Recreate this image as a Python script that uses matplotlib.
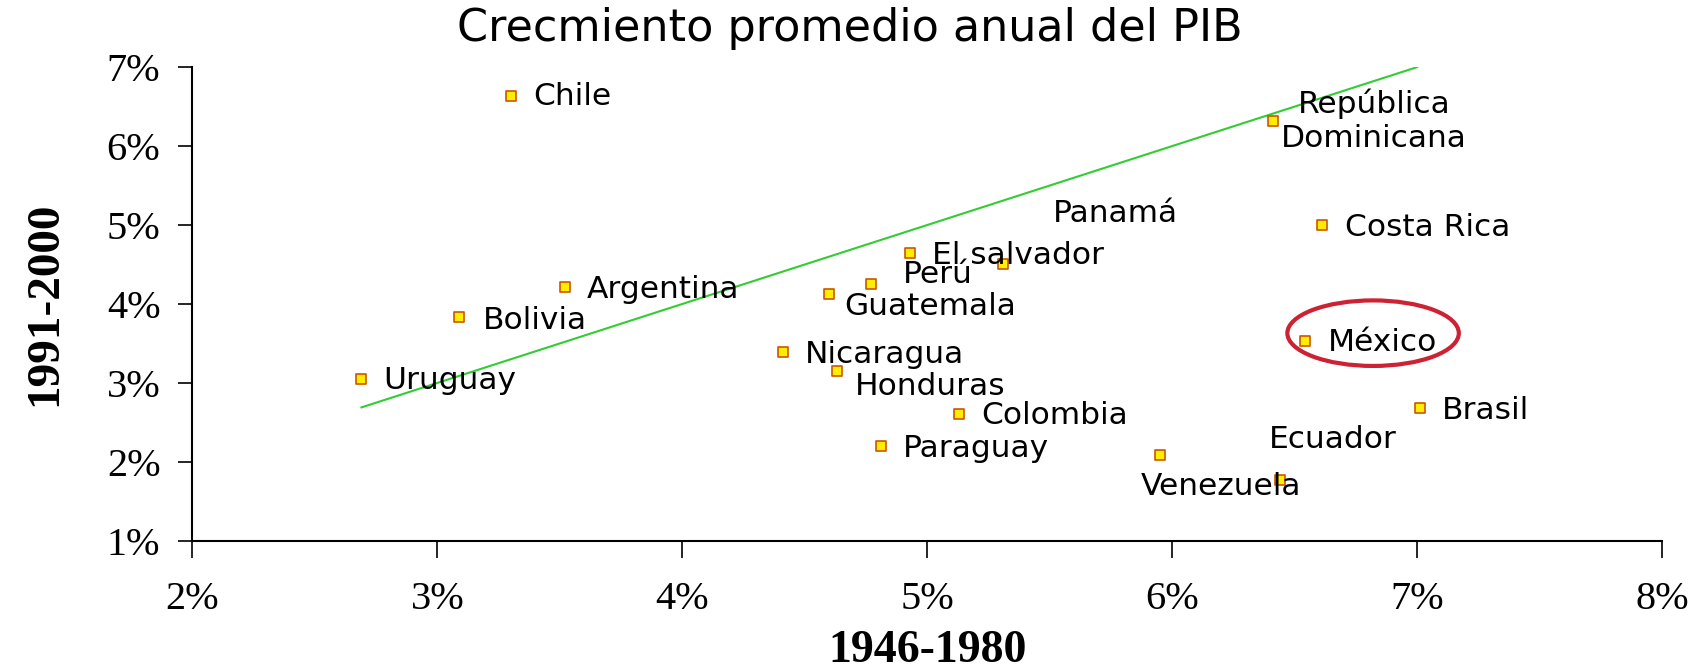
import matplotlib
matplotlib.use('Agg')
import matplotlib.pyplot as plt
from matplotlib.patches import Ellipse
from matplotlib.ticker import FuncFormatter

# Crecimiento promedio anual del PIB (%), 1946-1980 vs 1991-2000
countries = ['Chile', 'República\nDominicana', 'Costa Rica', 'Panamá', 'El salvador',
             'Perú', 'Guatemala', 'Argentina', 'Bolivia', 'Uruguay', 'Nicaragua',
             'Honduras', 'Colombia', 'Paraguay', 'Venezuela', 'Ecuador', 'México', 'Brasil']
g_1946_1980 = [3.30, 6.41, 6.61, 5.31, 4.93, 4.77, 4.60, 3.52, 3.09, 2.69, 4.41,
               4.63, 5.13, 4.81, 5.95, 6.44, 6.54, 7.01]
g_1991_2000 = [6.63, 6.32, 5.00, 4.51, 4.65, 4.25, 4.12, 4.22, 3.83, 3.05, 3.39,
               3.15, 2.61, 2.20, 2.09, 1.77, 3.53, 2.68]

# trend line endpoints
trend_x = [2.69, 7.00]
trend_y = [2.69, 7.00]

# label offsets (points) and alignment
offsets = {
    'Chile': (16, 0, 'left'),
    'República\nDominicana': (73, 0, 'center'),
    'Costa Rica': (17, -2, 'left'),
    'Panamá': (81, 36, 'center'),
    'El salvador': (16, -2, 'left'),
    'Perú': (23, 7, 'left'),
    'Guatemala': (11, -9, 'left'),
    'Argentina': (16, -2, 'left'),
    'Bolivia': (17, -2, 'left'),
    'Uruguay': (16, -1, 'left'),
    'Nicaragua': (16, -2, 'left'),
    'Honduras': (13, -11, 'left'),
    'Colombia': (16, -1, 'left'),
    'Paraguay': (16, -2, 'left'),
    'Venezuela': (-14, -23, 'left'),
    'Ecuador': (-8, 29, 'left'),
    'México': (17, -1, 'left'),
    'Brasil': (16, -2, 'left'),
}

fig = plt.figure(figsize=(17.03, 6.71), dpi=100)
ax = fig.add_axes([0.113, 0.194, 0.863, 0.706])

ax.plot(trend_x, trend_y, color='#33cc33', linewidth=1.5, zorder=1)
ax.scatter(g_1946_1980, g_1991_2000, marker='s', s=45, facecolor='#ffee00',
           edgecolor='#cc5500', linewidth=1.2, zorder=3)

for name, x, y in zip(countries, g_1946_1980, g_1991_2000):
    dx, dy, ha = offsets[name]
    ax.annotate(name, (x, y), xytext=(dx, dy), textcoords='offset points',
                ha=ha, va='center', fontsize=22.5, family='DejaVu Sans',
                linespacing=1.22, zorder=4)

ax.add_patch(Ellipse((6.82, 3.63), 0.70, 0.83, fill=False, edgecolor='#cc2233',
                     linewidth=3, zorder=5))

ax.set_xlim(2, 8)
ax.set_ylim(1, 7)
ax.set_xticks(range(2, 9))
ax.set_yticks(range(1, 8))
pct = FuncFormatter(lambda v, p: f'{int(v)}%')
ax.xaxis.set_major_formatter(pct)
ax.yaxis.set_major_formatter(pct)
for lab in ax.get_xticklabels() + ax.get_yticklabels():
    lab.set_family('Liberation Serif')
    lab.set_fontsize(29)
ax.tick_params(axis='x', length=12, width=1.2, pad=17)
ax.tick_params(axis='y', length=10, width=1.2, pad=13)

for s in ['top', 'right']:
    ax.spines[s].set_visible(False)
for s in ['left', 'bottom']:
    ax.spines[s].set_linewidth(1.5)

ax.set_xlabel('1946-1980', fontsize=33, fontweight='bold', family='Liberation Serif')
ax.set_ylabel('1991-2000', fontsize=34, fontweight='bold', family='Liberation Serif')
ax.xaxis.label.set_va('center')
ax.yaxis.label.set_va('center')
ax.xaxis.set_label_coords(0.5, -0.232)
ax.yaxis.set_label_coords(-0.100, 0.5)

fig.text(0.499, 0.958, 'Crecmiento promedio anual del PIB', ha='center', va='center',
         fontsize=32, family='DejaVu Sans')

fig.savefig('out.png', dpi=100)
